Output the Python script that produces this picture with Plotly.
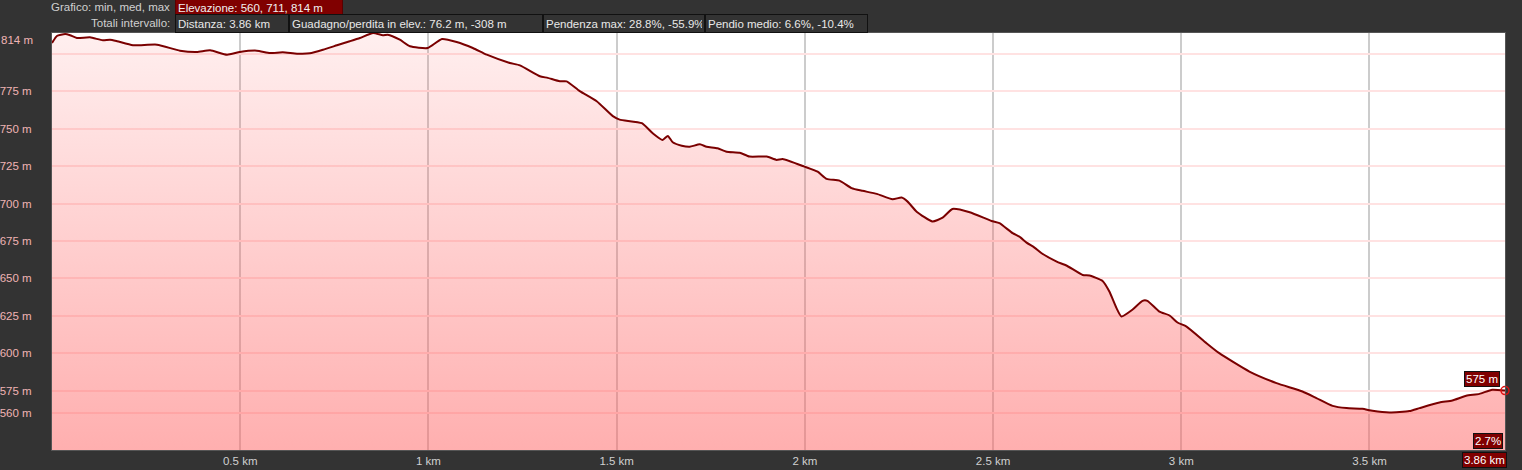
import plotly.graph_objects as go

dist_km = [0.000, 0.013, 0.035, 0.048, 0.066, 0.101, 0.135, 0.154, 0.173, 0.215,
           0.279, 0.340, 0.385, 0.420, 0.465, 0.499, 0.544, 0.579, 0.613, 0.651,
           0.685, 0.720, 0.757, 0.791, 0.818, 0.853, 0.879, 0.892, 0.924, 0.951,
           0.998, 1.036, 1.075, 1.118, 1.155, 1.216, 1.243, 1.296, 1.317, 1.349,
           1.367, 1.402, 1.447, 1.490, 1.508, 1.567, 1.596, 1.622, 1.636, 1.649,
           1.673, 1.694, 1.721, 1.739, 1.768, 1.792, 1.827, 1.853, 1.899, 1.925,
           1.941, 1.999, 2.034, 2.058, 2.092, 2.124, 2.153, 2.191, 2.233, 2.257,
           2.273, 2.297, 2.339, 2.366, 2.392, 2.438, 2.496, 2.517, 2.552, 2.570,
           2.589, 2.610, 2.629, 2.669, 2.695, 2.738, 2.756, 2.791, 2.809, 2.828,
           2.841, 2.870, 2.897, 2.910, 2.942, 2.969, 2.990, 3.014, 3.067, 3.101,
           3.181, 3.253, 3.322, 3.359, 3.402, 3.439, 3.481, 3.508, 3.553, 3.606,
           3.633, 3.686, 3.720, 3.757, 3.792, 3.826, 3.860]
elev_m = [807.3, 812.0, 813.3, 812.5, 810.7, 811.1, 809.1, 809.5, 808.5, 805.8,
          806.2, 802.2, 801.3, 802.4, 799.5, 801.3, 802.2, 800.6, 801.1, 800.2,
          800.4, 802.8, 805.8, 808.5, 810.7, 814.0, 812.5, 812.9, 809.5, 805.1,
          804.0, 810.0, 808.0, 804.0, 799.5, 794.0, 792.4, 785.1, 784.0, 781.7,
          781.7, 775.1, 768.4, 758.4, 756.1, 753.7, 747.0, 742.5, 745.2, 741.0,
          738.7, 738.0, 739.6, 738.0, 737.0, 734.7, 734.0, 731.4, 731.4, 729.2,
          729.8, 724.7, 721.3, 716.5, 715.3, 710.3, 708.5, 706.5, 702.9, 704.0,
          701.3, 694.6, 688.0, 690.6, 696.4, 694.2, 688.4, 686.9, 680.2, 677.9,
          673.9, 670.6, 666.8, 661.2, 658.6, 652.3, 651.9, 648.3, 641.2, 630.1,
          624.5, 629.0, 635.0, 635.0, 627.8, 625.2, 620.5, 617.8, 606.7, 600.0,
          587.7, 580.0, 574.4, 570.0, 564.8, 563.3, 562.8, 561.5, 560.4, 561.3,
          563.3, 567.0, 568.4, 571.5, 572.8, 575.6, 575.0]

x_tick_vals = [0.5, 1.0, 1.5, 2.0, 2.5, 3.0, 3.5]
x_tick_text = ["0.5 km", "1 km", "1.5 km", "2 km", "2.5 km", "3 km", "3.5 km"]
y_tick_vals = [560, 575, 600, 625, 650, 675, 700, 725, 750, 775, 800]
y_tick_text = ["560 m", "575 m", "600 m", "625 m", "650 m", "675 m", "700 m",
               "725 m", "750 m", "775 m", ""]
y_max_label = "814 m"

header1_label = "Grafico: min, med, max"
header1_box = "Elevazione: 560, 711, 814 m"
header2_label = "Totali intervallo:"
header2_boxes = ["Distanza: 3.86 km",
                 "Guadagno/perdita in elev.: 76.2 m, -308 m",
                 "Pendenza max: 28.8%, -55.9%",
                 "Pendio medio: 6.6%, -10.4%"]
end_elev_label = "575 m"
end_grade_label = "2.7%"
end_dist_label = "3.86 km"

FONT = "Liberation Sans, Arial, sans-serif"
FS = 11.5
W, H = 1522, 470
ML, MR, MT, MB = 52, 17, 33, 20
PW = W - ML - MR
PH = H - MT - MB


def px_x(px):
    return (px - ML) / PW


def px_y(py):
    return (H - MB - py) / PH


fig = go.Figure()
fig.add_trace(go.Scatter(
    x=dist_km, y=elev_m, mode="lines",
    line=dict(color="#7a0000", width=2, shape="spline", smoothing=0.5),
    fill="tozeroy",
    fillgradient=dict(type="vertical",
                      colorscale=[[0, "rgba(255,95,95,0.50)"],
                                  [1, "rgba(255,95,95,0.10)"]],
                      start=535, stop=814),
    hoverinfo="skip", showlegend=False,
))
fig.add_trace(go.Scatter(
    x=[dist_km[-1]], y=[elev_m[-1]], mode="markers",
    marker=dict(symbol="circle-open", size=8, color="#e01010",
                line=dict(width=1.5, color="#e01010")),
    cliponaxis=False, hoverinfo="skip", showlegend=False,
))

ann = []
# y label for the maximum (placed slightly below the top edge)
ann.append(dict(text=y_max_label, xref="paper", yref="y", x=0, y=814,
                xanchor="right", yanchor="middle", xshift=-17, yshift=-7,
                showarrow=False, font=dict(family=FONT, size=FS, color="#f0b4b4")))

# header row 1
ann.append(dict(text=header1_label, xref="paper", yref="paper", x=px_x(172), y=px_y(7.5),
                xanchor="right", yanchor="middle", showarrow=False,
                font=dict(family=FONT, size=FS, color="#d0d0d0")))
ann.append(dict(text=header1_box, xref="paper", yref="paper", x=px_x(175), y=px_y(7.5),
                xanchor="left", yanchor="middle", showarrow=False, align="left",
                width=168 - 6, height=13, borderpad=2, borderwidth=1,
                bgcolor="#800000", bordercolor="#5a0000",
                font=dict(family=FONT, size=FS, color="#f0f0f0")))
# header row 2
ann.append(dict(text=header2_label, xref="paper", yref="paper", x=px_x(172), y=px_y(23.5),
                xanchor="right", yanchor="middle", showarrow=False,
                font=dict(family=FONT, size=FS, color="#d0d0d0")))
box_lefts = [175, 289, 543, 705]
box_widths = [114, 254, 162, 163]
for txt, lft, wd in zip(header2_boxes, box_lefts, box_widths):
    ann.append(dict(text=txt, xref="paper", yref="paper", x=px_x(lft), y=px_y(23.5),
                    xanchor="left", yanchor="middle", showarrow=False, align="left",
                    width=wd - 6, height=13, borderpad=2, borderwidth=1,
                    bgcolor="#333333", bordercolor="#111111",
                    font=dict(family=FONT, size=FS, color="#e8e8e8")))

# end labels
ann.append(dict(text=end_elev_label, xref="x", yref="y", x=dist_km[-1], y=elev_m[-1],
                xanchor="right", yanchor="bottom", xshift=-5, yshift=4,
                showarrow=False, borderpad=1, borderwidth=1,
                bgcolor="#800000", bordercolor="#111111",
                font=dict(family=FONT, size=FS, color="#ffffff")))
ann.append(dict(text=end_grade_label, xref="paper", yref="paper", x=px_x(1503), y=px_y(449),
                xanchor="right", yanchor="bottom", showarrow=False,
                borderpad=1, borderwidth=1,
                bgcolor="#800000", bordercolor="#111111",
                font=dict(family=FONT, size=FS, color="#ffffff")))
ann.append(dict(text=end_dist_label, xref="paper", yref="paper", x=px_x(1507), y=px_y(452),
                xanchor="right", yanchor="top", showarrow=False,
                borderpad=1, borderwidth=1,
                bgcolor="#800000", bordercolor="#111111",
                font=dict(family=FONT, size=FS, color="#ffffff")))

fig.update_layout(
    width=W, height=H,
    margin=dict(l=ML, r=MR, t=MT, b=MB, pad=0, autoexpand=False),
    paper_bgcolor="#333333", plot_bgcolor="#ffffff",
    font=dict(family=FONT, size=FS),
    annotations=ann,
    xaxis=dict(range=[0, dist_km[-1]], tickvals=x_tick_vals, ticktext=x_tick_text,
               showgrid=True, gridcolor="#cccccc", gridwidth=2,
               zeroline=False, ticks="", ticklen=0, automargin=False,
               tickfont=dict(family=FONT, size=FS, color="#d0d0d0"),
               showline=True, linecolor="#555555", linewidth=1, mirror=True,
               fixedrange=True),
    yaxis=dict(range=[535.3, 814], tickvals=y_tick_vals, ticktext=y_tick_text,
               showgrid=True, gridcolor="#ffe2e2", gridwidth=2,
               zeroline=False, ticks="", ticklen=0, ticklabelstandoff=17,
               automargin=False,
               tickfont=dict(family=FONT, size=FS, color="#f0b4b4"),
               showline=True, linecolor="#555555", linewidth=1, mirror=True,
               fixedrange=True),
)

fig.write_html(
    "out.html",
    config={"displayModeBar": False},
    post_script="document.body.style.margin='0';document.body.style.background='#333333';",
)
